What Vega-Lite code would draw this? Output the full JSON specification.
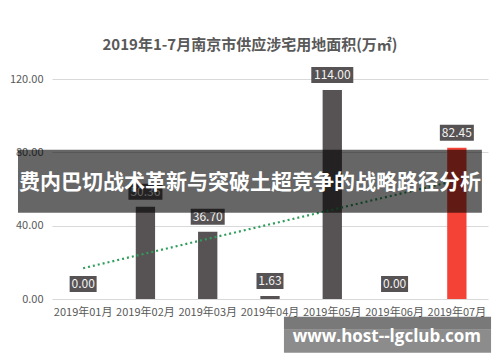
{
  "$schema": "https://vega.github.io/schema/vega-lite/v6.json",
  "width": 436,
  "height": 220,
  "autosize": {"type": "none"},
  "padding": {"left": 52, "top": 79, "right": 12, "bottom": 63},
  "background": "white",
  "title": {
    "text": "2019年1-7月南京市供应涉宅用地面积(万㎡)",
    "font": "Noto Sans CJK SC",
    "fontSize": 15,
    "fontWeight": "bold",
    "color": "#595959",
    "anchor": "middle",
    "dx": -20,
    "offset": -10
  },
  "config": {
    "view": {"stroke": null},
    "font": "Noto Sans CJK SC"
  },
  "resolve": {"scale": {"x": "independent"}},
  "layer": [
    {
      "data": {
        "values": [
          {"month": "2019年01月", "value": 0, "trend": 16.8, "label": "0.00"},
          {"month": "2019年02月", "value": 50.36, "trend": 24.8, "label": "50.36"},
          {"month": "2019年03月", "value": 36.7, "trend": 32.8, "label": "36.70"},
          {"month": "2019年04月", "value": 1.63, "trend": 40.75, "label": "1.63"},
          {"month": "2019年05月", "value": 114, "trend": 48.7, "label": "114.00"},
          {"month": "2019年06月", "value": 0, "trend": 56.7, "label": "0.00"},
          {"month": "2019年07月", "value": 82.45, "trend": 64.7, "label": "82.45"}
        ]
      },
      "encoding": {
        "x": {
          "field": "month",
          "type": "ordinal",
          "sort": null,
          "scale": {"paddingInner": 0, "paddingOuter": 0},
          "axis": {
            "title": null,
            "labelAngle": 0,
            "domain": false,
            "ticks": false,
            "labelPadding": 7,
            "labelFontSize": 11,
            "labelColor": "#595959",
            "labelFont": "Noto Sans CJK SC"
          }
        }
      },
      "layer": [
        {
          "mark": {"type": "bar", "width": {"band": 0.31}},
          "encoding": {
            "y": {
              "field": "value",
              "type": "quantitative",
              "scale": {"domain": [0, 120], "nice": false},
              "axis": {
                "title": null,
                "values": [0, 20, 40, 60, 80, 100, 120],
                "format": ".2f",
                "domain": false,
                "ticks": false,
                "gridColor": "#d9d9d9",
                "labelPadding": 9,
                "labelFontSize": 11,
                "labelColor": "#595959",
                "labelFont": "Noto Sans CJK SC"
              }
            },
            "color": {
              "condition": {"test": "datum.month === '2019年07月'", "value": "#f44336"},
              "value": "#575354"
            }
          }
        },
        {
          "mark": {"type": "line", "color": "#2f9e5c", "strokeWidth": 2.2, "strokeDash": [2, 3]},
          "encoding": {
            "y": {"field": "trend", "type": "quantitative"}
          }
        },
        {
          "mark": {
            "type": "point",
            "shape": "M-1,0H1",
            "filled": false,
            "stroke": "#575354",
            "strokeWidth": 16,
            "strokeCap": "butt",
            "opacity": 1,
            "yOffset": -15
          },
          "encoding": {
            "y": {"field": "value", "type": "quantitative"},
            "size": {
              "field": "value",
              "type": "quantitative",
              "scale": {"type": "threshold", "domain": [10, 100], "range": [729, 1156, 1764]},
              "legend": null
            }
          }
        },
        {
          "mark": {
            "type": "text",
            "color": "#f2f2f2",
            "fontSize": 12,
            "font": "Noto Sans CJK SC",
            "baseline": "middle",
            "yOffset": -15
          },
          "encoding": {
            "y": {"field": "value", "type": "quantitative"},
            "text": {"field": "label"}
          }
        }
      ]
    },
    {
      "data": {
        "values": [
          {"part": "banner", "fx1": -0.078, "fx2": 0.986, "y1": 81.4, "y2": 47.1},
          {"part": "wmtop", "fx1": 0.532, "fx2": 1.007, "y1": -9.7, "y2": -16.7},
          {"part": "wmbottom", "fx1": 0.532, "fx2": 1.007, "y1": -16.7, "y2": -29.3}
        ]
      },
      "mark": {"type": "rect", "color": "black"},
      "encoding": {
        "x": {"field": "fx1", "type": "quantitative", "scale": {"domain": [0, 1], "nice": false, "zero": false}, "axis": null},
        "x2": {"field": "fx2"},
        "y": {"field": "y1", "type": "quantitative"},
        "y2": {"field": "y2"},
        "opacity": {
          "field": "part",
          "type": "nominal",
          "scale": {"domain": ["banner", "wmtop", "wmbottom"], "range": [0.6, 0.45, 1]},
          "legend": null
        }
      }
    },
    {
      "data": {
        "values": [
          {"fx": 0.454, "y": 63.4, "text": "费内巴切战术革新与突破土超竞争的战略路径分析"}
        ]
      },
      "mark": {"type": "text", "color": "white", "font": "Noto Sans CJK SC", "fontSize": 21, "fontWeight": "bold", "baseline": "middle", "align": "center"},
      "encoding": {
        "x": {"field": "fx", "type": "quantitative", "scale": {"domain": [0, 1], "nice": false, "zero": false}, "axis": null},
        "y": {"field": "y", "type": "quantitative"},
        "text": {"field": "text"}
      }
    },
    {
      "data": {
        "values": [
          {"fx": 0.768, "y": -20.5, "text": "www.host--lgclub.com"}
        ]
      },
      "mark": {"type": "text", "color": "white", "font": "Open Sans", "fontSize": 17, "fontWeight": "bold", "baseline": "middle", "align": "center"},
      "encoding": {
        "x": {"field": "fx", "type": "quantitative", "scale": {"domain": [0, 1], "nice": false, "zero": false}, "axis": null},
        "y": {"field": "y", "type": "quantitative"},
        "text": {"field": "text"}
      }
    }
  ]
}
